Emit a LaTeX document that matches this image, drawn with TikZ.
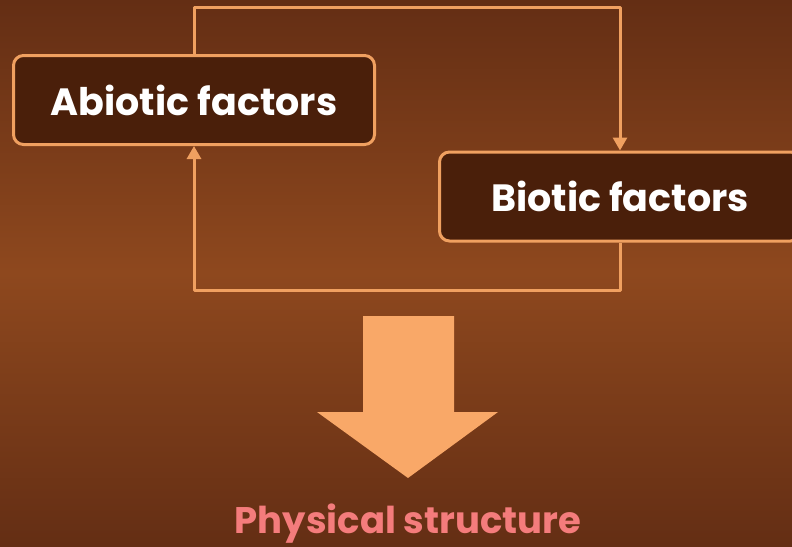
\documentclass[tikz,border=0pt]{standalone}
\usepackage{fontspec}
\setmainfont{Poppins}
\usetikzlibrary{arrows.meta}
\definecolor{bgdark}{RGB}{100,46,20}
\definecolor{bgmid}{RGB}{142,72,30}
\definecolor{boxfill}{RGB}{74,31,10}
\definecolor{boxline}{RGB}{240,160,96}
\definecolor{bigarrow}{RGB}{249,168,104}
\definecolor{resultpink}{RGB}{244,124,124}

\begin{document}
\begin{tikzpicture}[x=1pt, y=-1pt, line join=round, >={Triangle[width=14pt,length=13pt]},
    factor/.style={draw=boxline, line width=3pt, fill=boxfill, rounded corners=10pt,
      minimum width=361pt, minimum height=89pt, text=white, font=\fontsize{38}{44}\selectfont\bfseries},
    link/.style={draw=boxline, line width=3pt}]
  \useasboundingbox (0,0) rectangle (792,546);
  \shade[top color=bgdark, bottom color=bgdark, middle color=bgmid] (0,0) rectangle (792,546);
  \node[factor] (abiotic) at (194,100) {Abiotic factors};
  \node[factor] (biotic) at (620,196.5) {Biotic factors};
  \coordinate (top) at (400,7);
  \coordinate (bottom) at (400,290);
  \draw[link,->] (abiotic.north) |- (top) -| (biotic.north);
  \draw[link,->] (biotic.south) |- (bottom) -| (abiotic.south);
  \fill[bigarrow] (363,316) -- (454,316) -- (454,412) -- (498,412) -- (408,478) -- (317,412) -- (363,412) -- cycle;
  \node[anchor=base, text=resultpink, font=\fontsize{37}{44}\selectfont\bfseries] (result) at (408,533) {Physical structure};
\end{tikzpicture}
\end{document}
